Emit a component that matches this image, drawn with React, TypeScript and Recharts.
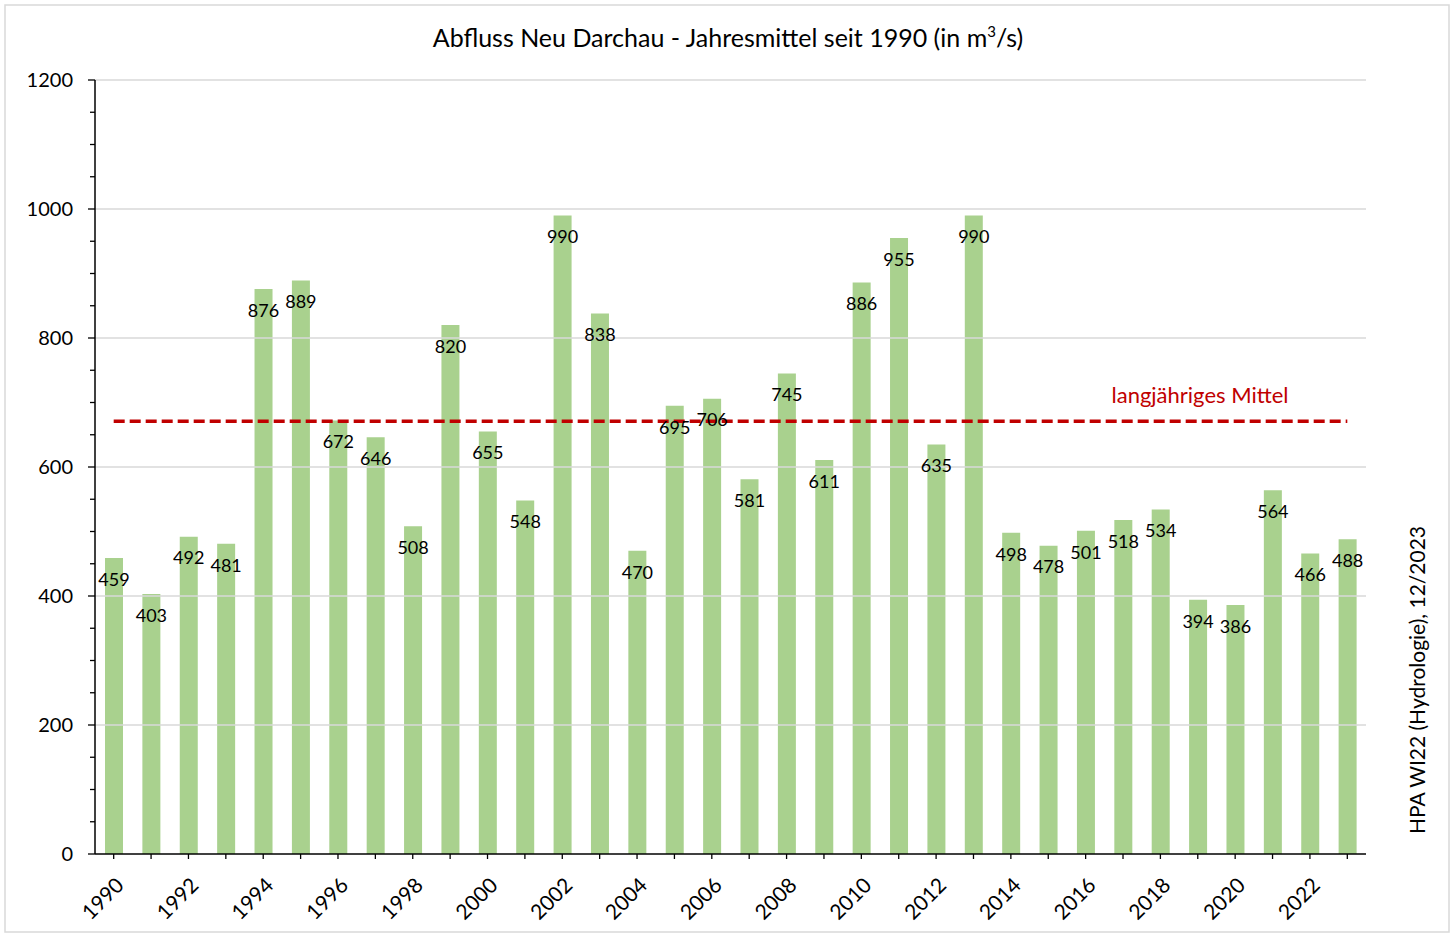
import React from 'react';
import { ComposedChart, Bar, Line, XAxis, YAxis, LabelList, ReferenceLine } from 'recharts';

const years = [
  '1990','1991','1992','1993','1994','1995','1996','1997','1998','1999',
  '2000','2001','2002','2003','2004','2005','2006','2007','2008','2009',
  '2010','2011','2012','2013','2014','2015','2016','2017','2018','2019',
  '2020','2021','2022','2023',
];
const discharge = [
  459, 403, 492, 481, 876, 889, 672, 646, 508, 820,
  655, 548, 990, 838, 470, 695, 706, 581, 745, 611,
  886, 955, 635, 990, 498, 478, 501, 518, 534, 394,
  386, 564, 466, 488,
];
const longTermMean = 671;
const yTicks = [0,50,100,150,200,250,300,350,400,450,500,550,600,650,700,750,800,850,900,950,1000,1050,1100,1150,1200];
const gridValues = [200, 400, 600, 800, 1000, 1200];

const data = years.map((y, i) => ({ year: y, value: discharge[i], mean: longTermMean }));

const FONT = 'Lato, "Open Sans", sans-serif';

const YTick = (props: any) => {
  const { x, y, payload } = props;
  const v = payload.value as number;
  const major = v % 200 === 0;
  return (
    <g>
      <line x1={x - (major ? 7 : 5)} x2={x} y1={y} y2={y} stroke="#000" strokeWidth={1.3} />
      {major && (
        <text x={x - 22} y={y} dy="0.36em" textAnchor="end" fontFamily={FONT} fontSize={20} fill="#000">
          {v}
        </text>
      )}
    </g>
  );
};

const XTick = (props: any) => {
  const { x, y, payload, index } = props;
  if (index % 2 !== 0) return <g />;
  return (
    <text
      x={x + 1}
      y={y}
      dy="0.71em"
      textAnchor="end"
      transform={`rotate(-45, ${x + 1}, ${y})`}
      fontFamily={FONT}
      fontSize={21}
      fill="#000"
    >
      {payload.value}
    </text>
  );
};

export default function App() {
  return (
    <div style={{ position: 'absolute', left: 0, top: 0, width: 1451, height: 934, background: '#fff' }}>
      <ComposedChart
        width={1451}
        height={934}
        data={data}
        margin={{ top: 80, right: 85, bottom: 0, left: 0 }}
      >
        {gridValues.map((g) => (
          <ReferenceLine key={g} y={g} stroke="#D9D9D9" strokeWidth={1.5} ifOverflow="extendDomain" />
        ))}
        <XAxis
          dataKey="year"
          interval={0}
          height={80}
          tickSize={5}
          tickMargin={17}
          tick={<XTick />}
          axisLine={{ stroke: '#000', strokeWidth: 1.5 }}
          tickLine={{ stroke: '#000', strokeWidth: 1.3 }}
        />
        <YAxis
          width={95}
          domain={[0, 1200]}
          ticks={yTicks}
          interval={0}
          tickSize={0}
          tickMargin={0}
          tickLine={false}
          tick={<YTick />}
          axisLine={{ stroke: '#000', strokeWidth: 1.5 }}
        />
        <Bar dataKey="value" fill="#A9D18E" barSize={18} isAnimationActive={false}>
          <LabelList
            dataKey="value"
            position="insideTop"
            offset={15}
            fontFamily={FONT}
            fontSize={18}
            fill="#000"
          />
        </Bar>
        <Line
          dataKey="mean"
          stroke="#C00000"
          strokeWidth={3.5}
          strokeDasharray="11 5"
          dot={false}
          activeDot={false}
          isAnimationActive={false}
        />
      </ComposedChart>
      <svg
        width={1451}
        height={934}
        style={{ position: 'absolute', left: 0, top: 0, pointerEvents: 'none' }}
      >
        <rect x={5} y={5} width={1444} height={927} fill="none" stroke="#D9D9D9" strokeWidth={1.5} />
        <text x={728} y={47} textAnchor="middle" fontFamily={FONT} fontSize={25} fill="#000">
          Abfluss Neu Darchau - Jahresmittel seit 1990 (in m
          <tspan dy={-10} fontSize={15}>3</tspan>
          <tspan dy={10}>/s)</tspan>
        </text>
        <text x={1200} y={403} textAnchor="middle" fontFamily={FONT} fontSize={22} fill="#C00000">
          langjähriges Mittel
        </text>
        <text
          x={1418}
          y={680}
          dy="0.35em"
          textAnchor="middle"
          transform="rotate(-90, 1418, 680)"
          fontFamily={FONT}
          fontSize={21}
          fill="#000"
        >
          HPA WI22 (Hydrologie), 12/2023
        </text>
      </svg>
    </div>
  );
}
